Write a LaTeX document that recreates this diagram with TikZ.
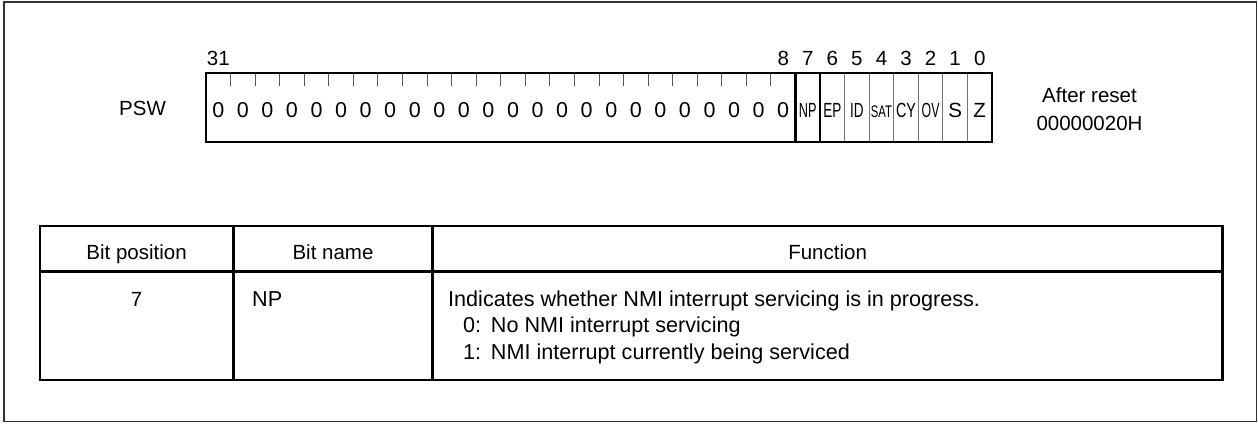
\documentclass[tikz,border=0pt]{standalone}
\usepackage{fontspec}
\setmainfont{Liberation Sans}
\begin{document}
\begin{tikzpicture}[x=1pt,y=-1pt,
  txt/.style={inner sep=0pt,anchor=base,font=\fontsize{20.5}{24}\selectfont},
  ltxt/.style={txt,anchor=base west,font=\fontsize{21.6}{25}\selectfont},
  frame/.style={draw=black!80,line width=1.5pt},
  thick line/.style={draw=black,line width=2.2pt},
  table line/.style={draw=black,line width=2.6pt},
  thin line/.style={draw=black!55,line width=1pt},
  tick line/.style={draw=black!65,line width=1pt}]
\useasboundingbox (0,0) rectangle (1258,424);
% outer frame
\draw[frame] (4,2) rectangle (1256.5,421.5);
% register
\def\cw{24.5625}
\coordinate (r0) at (206,73);
\coordinate (r1) at (992,142);
\foreach \i in {1,...,23} {
  \draw[tick line] ({206+\i*\cw},73) -- ({206+\i*\cw},86);
}
\foreach \i in {26,...,31} {
  \draw[thin line] ({206+\i*\cw},73) -- ({206+\i*\cw},142);
}
\foreach \i in {24,25} {
  \draw[thick line] ({206+\i*\cw},73) -- ({206+\i*\cw},142);
}
\draw[thick line] (r0) rectangle (r1);
% zeros
\foreach \i in {0,...,23} {
  \node[txt,font=\fontsize{21.5}{24}\selectfont] (z\i) at ({206+(\i+0.5)*\cw},117.5) {0};
}
\node[txt] (fNP) at ({206+24.5*\cw},117.5) {\scalebox{0.62}[1]{NP}};
\node[txt] (fEP) at ({206+25.5*\cw},117.5) {\scalebox{0.66}[1]{EP}};
\node[txt] (fID) at ({206+26.5*\cw},117.5) {\scalebox{0.66}[1]{ID}};
\node[txt] (fSAT) at ({206+27.5*\cw},117.5) {\scalebox{0.55}[0.82]{SAT}};
\node[txt] (fCY) at ({206+28.5*\cw},117.5) {\scalebox{0.7}[1]{CY}};
\node[txt] (fOV) at ({206+29.5*\cw},117.5) {\scalebox{0.6}[1]{OV}};
\node[txt] (fS) at ({206+30.5*\cw},117.5) {S};
\node[txt] (fZ) at ({206+31.5*\cw},117.5) {Z};
% bit numbers
\node[txt] (b31) at ({206+0.5*\cw},65) {31};
\foreach \b in {8,7,6,5,4,3,2,1,0} {
  \node[txt] (b\b) at ({206+(31-\b+0.5)*\cw},65) {\b};
}
\node[txt] (psw) at (142.5,115) {PSW};
\node[txt] (ar1) at (1089.5,102.7) {After reset};
\node[txt] (ar2) at (1089.5,130) {00000020H};
% table
\draw[table line] (40,226) rectangle (1222.5,380);
\draw[table line] (40,271.5) -- (1222.5,271.5);
\draw[table line] (233.3,226) -- (233.3,380);
\draw[table line] (432.7,226) -- (432.7,380);
\node[txt] (h1) at (136.6,259.5) {Bit position};
\node[txt] (h2) at (333,259.5) {Bit name};
\node[txt] (h3) at (827.6,259.5) {Function};
\node[txt] (c1) at (136.6,306) {7};
\node[ltxt] (c2) at (252,306) {NP};
\node[ltxt] (c3) at (448,306) {Indicates whether NMI interrupt servicing is in progress.};
\node[ltxt] (c4) at (463,332.5) {0:\hspace{0.45em}No NMI interrupt servicing};
\node[ltxt] (c5) at (463,359) {1:\hspace{0.45em}NMI interrupt currently being serviced};
\end{tikzpicture}
\end{document}
